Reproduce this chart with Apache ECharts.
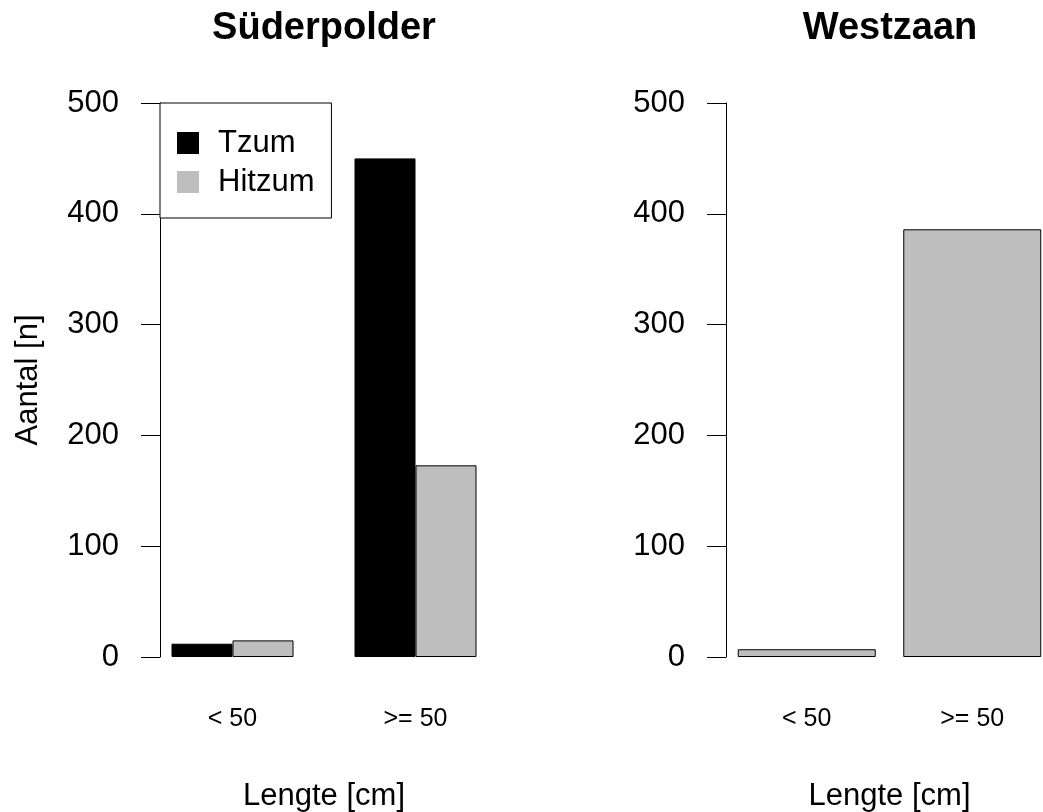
<!DOCTYPE html>
<html>
<head>
<meta charset="utf-8">
<title>Aantal per lengteklasse</title>
<script src="https://cdn.jsdelivr.net/npm/echarts@6/dist/echarts.min.js"></script>
<style>
  html, body { margin: 0; padding: 0; background: #ffffff; }
  #chart { width: 1043px; height: 812px; }
</style>
</head>
<body>
<div id="chart"></div>
<script>
// Length classes shown on both panels
const categories = ['< 50', '>= 50'];

// Süderpolder counts per length class
const suederTzum = [12, 450];
const suederHitzum = [15, 173];

// Westzaan counts per length class
const westzaan = [7, 386];

// Y axis scale
const yMin = 0;
const yMax = 500;
const yStep = 100;

const FONT = 'Liberation Sans, Arial, Helvetica, sans-serif';
const BLACK = '#000000';
const GREY = '#bebebe';

const chart = echarts.init(document.getElementById('chart'), null, { renderer: 'canvas' });

function valueAxis(gridIndex, offset, withName) {
  const ax = {
    type: 'value',
    gridIndex: gridIndex,
    min: yMin,
    max: yMax,
    interval: yStep,
    offset: offset,
    splitLine: { show: false },
    axisLine: { show: true, lineStyle: { color: BLACK, width: 1 } },
    axisTick: { show: true, length: 19, lineStyle: { color: BLACK, width: 1 } },
    axisLabel: { color: BLACK, fontSize: 31, fontFamily: FONT, margin: 41 }
  };
  if (withName) {
    ax.name = 'Aantal [n]';
    ax.nameLocation = 'middle';
    ax.nameRotate = 90;
    ax.nameGap = 116;
    ax.nameTextStyle = { color: BLACK, fontSize: 31, fontFamily: FONT, lineHeight: 31 };
  }
  return ax;
}

function categoryAxis(gridIndex) {
  return {
    type: 'category',
    gridIndex: gridIndex,
    data: categories,
    axisLine: { show: false },
    axisTick: { show: false },
    splitLine: { show: false },
    axisLabel: { color: BLACK, fontSize: 25, fontFamily: FONT, margin: 50 },
    name: 'Lengte [cm]',
    nameLocation: 'middle',
    nameGap: 124,
    nameTextStyle: { color: BLACK, fontSize: 31, fontFamily: FONT, lineHeight: 31 }
  };
}

const barStyle = (color) => ({ color: color, borderColor: BLACK, borderWidth: 1 });

const option = {
  animation: false,
  backgroundColor: '#ffffff',
  textStyle: { fontFamily: FONT },
  title: [
    {
      text: 'Süderpolder', left: 324, top: 10, padding: 0, textAlign: 'center',
      textStyle: { color: BLACK, fontSize: 38, fontWeight: 'bold', fontFamily: FONT }
    },
    {
      text: 'Westzaan', left: 890, top: 10, padding: 0, textAlign: 'center',
      textStyle: { color: BLACK, fontSize: 38, fontWeight: 'bold', fontFamily: FONT }
    }
  ],
  legend: {
    data: ['Tzum', 'Hitzum'],
    orient: 'vertical',
    left: 160,
    top: 103,
    padding: [22, 17, 18, 17],
    itemWidth: 22,
    itemHeight: 22,
    itemGap: 3,
    icon: 'rect',
    backgroundColor: '#ffffff',
    borderColor: BLACK,
    borderWidth: 1,
    borderRadius: 0,
    selectedMode: false,
    itemStyle: { borderWidth: 0 },
    textStyle: { color: BLACK, fontSize: 31, fontFamily: FONT, lineHeight: 30, padding: [6, 0, 0, 14] }
  },
  grid: [
    { left: 141, top: 103, width: 366, height: 554, outerBoundsMode: 'none' },
    { left: 724, top: 103, width: 331, height: 554, outerBoundsMode: 'none' }
  ],
  xAxis: [categoryAxis(0), categoryAxis(1)],
  yAxis: [valueAxis(0, -19, true), valueAxis(1, -2, false)],
  series: [
    {
      name: 'Tzum', type: 'bar', xAxisIndex: 0, yAxisIndex: 0,
      data: suederTzum, barWidth: 61, barGap: '0%',
      itemStyle: barStyle(BLACK)
    },
    {
      name: 'Hitzum', type: 'bar', xAxisIndex: 0, yAxisIndex: 0,
      data: suederHitzum, barWidth: 61, barGap: '0%',
      itemStyle: barStyle(GREY)
    },
    {
      name: 'Westzaan', type: 'bar', xAxisIndex: 1, yAxisIndex: 1,
      data: westzaan, barWidth: 138,
      itemStyle: barStyle(GREY)
    }
  ]
};

chart.setOption(option);
</script>
</body>
</html>
